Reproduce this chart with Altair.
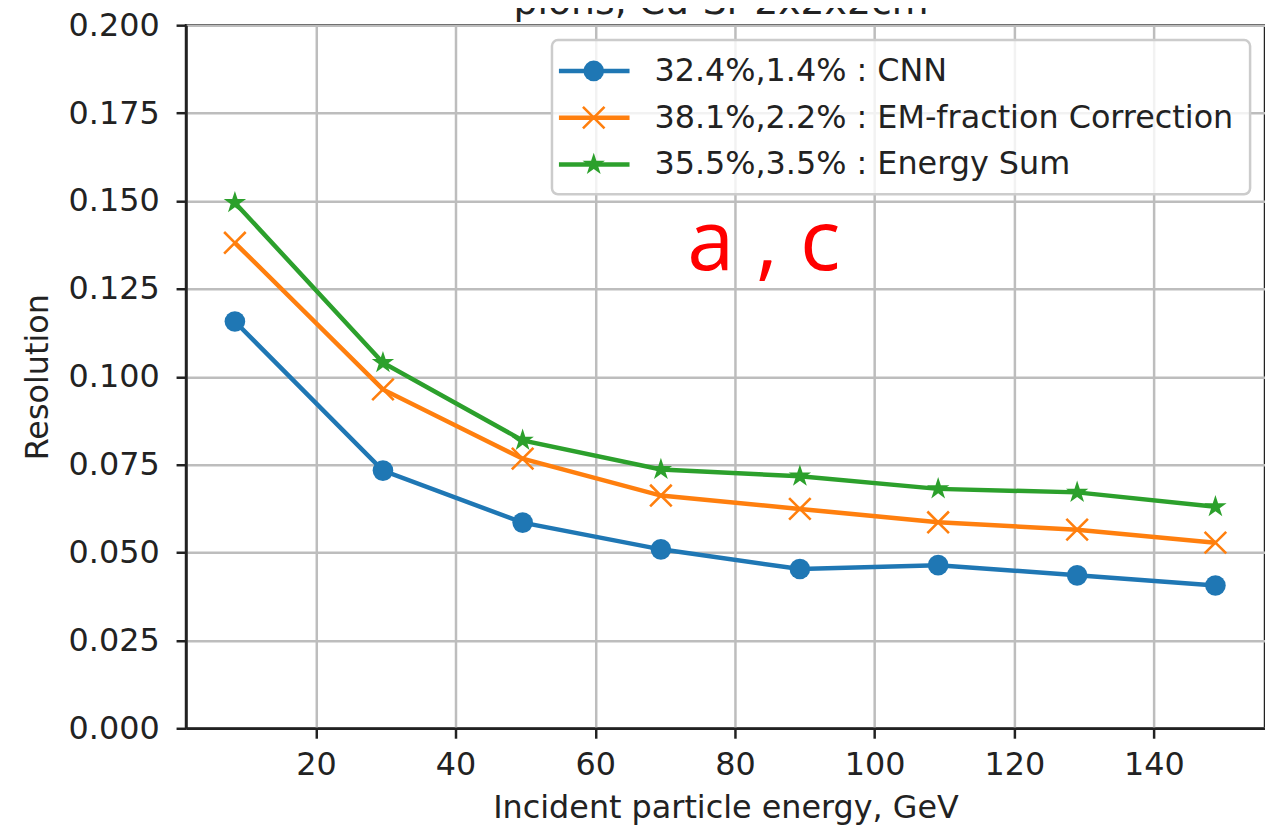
import altair as alt
import pandas as pd

# ---- data ----
energy = [8.4, 29.6, 49.6, 69.4, 89.3, 109.1, 129.0, 148.8]
cnn = [0.1157, 0.0733, 0.0585, 0.0509, 0.0453, 0.0464, 0.0435, 0.0406]
em_fraction = [0.1381, 0.0964, 0.0767, 0.0662, 0.0624, 0.0586, 0.0565, 0.0528]
energy_sum = [0.1495, 0.1040, 0.0819, 0.0736, 0.0717, 0.0681, 0.0671, 0.0630]

series_names = [
    "32.4%,1.4% : CNN",
    "38.1%,2.2% : EM-fraction Correction",
    "35.5%,3.5% : Energy Sum",
]
series_values = [cnn, em_fraction, energy_sum]
series_colors = ["#1f77b4", "#ff7f0e", "#2ca02c"]

x_ticks = [20, 40, 60, 80, 100, 120, 140]
y_ticks = [0.0, 0.025, 0.05, 0.075, 0.1, 0.125, 0.15, 0.175, 0.2]
title_text = "pions, Cu-Sr 2x2x2cm"
annotation_text = "a , c"
x_title = "Incident particle energy, GeV"
y_title = "Resolution"

# ---- marker shapes ----
X_PATH = "M-1,-1L1,1M-1,1L1,-1"
STAR_PATH = ("M0,-1L0.2245,-0.309L0.9511,-0.309L0.3633,0.118L0.5878,0.809"
             "L0,0.382L-0.5878,0.809L-0.3633,0.118L-0.9511,-0.309L-0.2245,-0.309Z")
shapes = ["circle", X_PATH, STAR_PATH]
filled = [True, False, True]
sizes = [430, 470, 560]

rows = []
for name, vals in zip(series_names, series_values):
    for e, v in zip(energy, vals):
        rows.append({"energy": e, "resolution": v, "series": name})
df = pd.DataFrame(rows)

W, H = 1085, 707
FONT = "DejaVu Sans"
INK = "#222222"
FS = 32

xscale = alt.Scale(domain=[1.4, 155.9], nice=False, zero=False)
yscale = alt.Scale(domain=[0, 0.2], nice=False, zero=False)

X = alt.X("energy:Q", scale=xscale,
          axis=alt.Axis(values=x_ticks, format="d", title=x_title,
                        labelPadding=11, titleY=90, titleBaseline="alphabetic"))
Y = alt.Y("resolution:Q", scale=yscale,
          axis=alt.Axis(values=y_ticks, format=".3f", title=y_title,
                        labelPadding=17, titleX=-149, titleBaseline="middle"))


def marker_props(i):
    pt = dict(shape=shapes[i], filled=filled[i], size=sizes[i], opacity=1)
    if filled[i]:
        pt.update(fill=series_colors[i], strokeWidth=0)
    else:
        pt.update(stroke=series_colors[i], strokeWidth=2.6)
    return pt


base = alt.Chart(df)
layers = []
for i, name in enumerate(series_names):
    sub = base.transform_filter(alt.datum.series == name)
    layers.append(sub.mark_line(color=series_colors[i], strokeWidth=4.5).encode(x=X, y=Y))
    layers.append(sub.mark_point(**marker_props(i)).encode(x=X, y=Y))

# ---- legend (drawn by hand to show line + marker) ----
one = pd.DataFrame({"k": [0]})
layers.append(alt.Chart(one).mark_rect(fill="white", fillOpacity=0.8, stroke="#cccccc",
                                       strokeWidth=2.5, cornerRadius=6).encode(
    x=alt.value(368), x2=alt.value(1070), y=alt.value(15), y2=alt.value(170)))
row_y = [46, 93, 140]
for i, name in enumerate(series_names):
    layers.append(alt.Chart(one).mark_rule(color=series_colors[i], strokeWidth=4.5).encode(
        x=alt.value(375), x2=alt.value(446), y=alt.value(row_y[i])))
    layers.append(alt.Chart(one).mark_point(**marker_props(i)).encode(
        x=alt.value(410), y=alt.value(row_y[i])))
    layers.append(alt.Chart(pd.DataFrame({"label": [name]})).mark_text(
        font=FONT, fontSize=FS, color=INK, align="left", baseline="middle").encode(
        x=alt.value(471), y=alt.value(row_y[i]), text="label:N"))

# ---- title (cut off at the top, as in the reference) and annotation ----
layers.append(alt.Chart(pd.DataFrame({"t": [title_text]})).mark_text(
    font=FONT, fontSize=38, color=INK, align="center", baseline="alphabetic").encode(
    x=alt.value(538), y=alt.value(-11), text="t:N"))
layers.append(alt.Chart(pd.DataFrame({"t": [annotation_text]})).mark_text(
    font="Open Sans", fontSize=85, color="#ff0000", align="center", baseline="alphabetic").encode(
    x=alt.value(581), y=alt.value(246), text="t:N"))

chart = alt.layer(*layers).properties(
    width=W, height=H,
    autosize=alt.AutoSizeParams(type="none"),
    padding={"left": 179, "top": 15, "right": 0, "bottom": 98},
).configure_view(
    stroke=INK, strokeWidth=2.5
).configure_axis(
    grid=True, gridColor="#bdbdbd", gridWidth=2.5,
    domainColor=INK, domainWidth=2.5,
    tickColor=INK, tickWidth=2.5, tickSize=10,
    labelFont=FONT, labelFontSize=FS, labelColor=INK,
    titleFont=FONT, titleFontSize=FS, titleFontWeight="normal", titleColor=INK,
)

chart.save("out.html", embed_options={"renderer": "svg", "actions": False})
